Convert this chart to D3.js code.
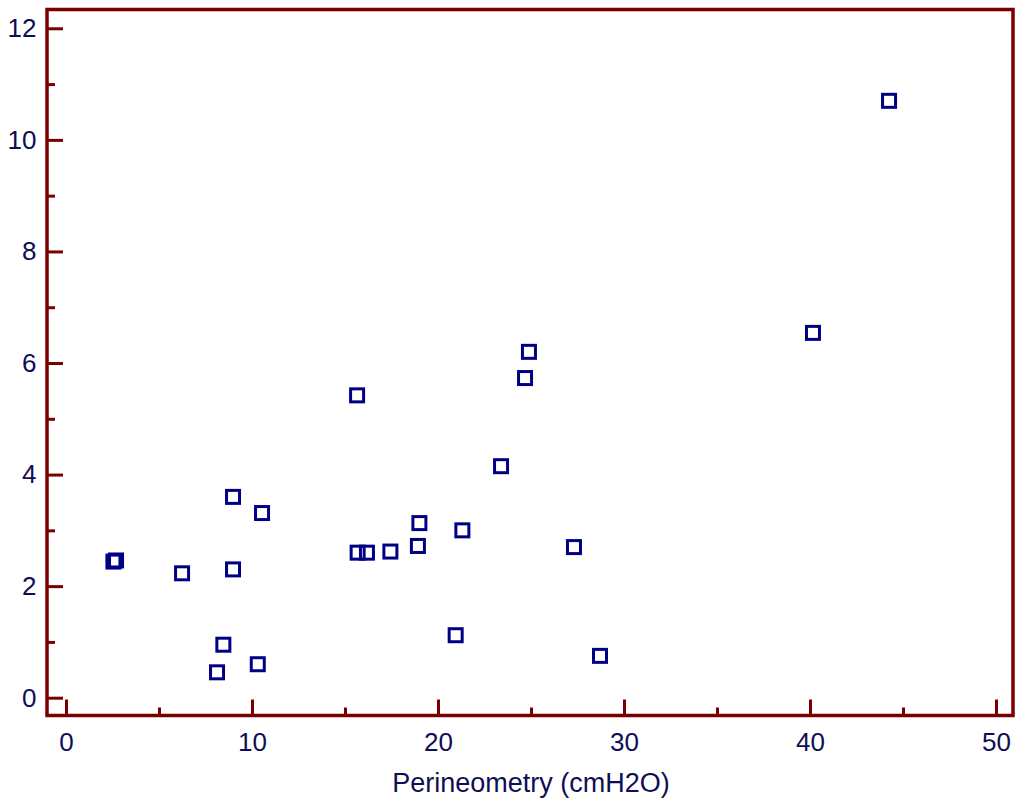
<!DOCTYPE html>
<html>
  <head>
    <meta charset="utf-8">
    <title>Perineometry scatter</title>
    <script src="https://d3js.org/d3.v7.min.js"></script>
    <style>
      body { margin: 0; background: #fff; }
      svg text { font-family: "Liberation Sans", Arial, sans-serif; fill: #0e0e55; }
    </style>
  </head>
  <body>
    <svg id="chart" width="1015" height="803"></svg>
    <script>
      // data
      perineometry = [2.55, 2.69, 6.24, 8.12, 8.46, 8.98, 8.98, 10.31, 10.54, 15.65, 15.68, 16.18,
                      17.44, 18.92, 19.0, 20.95, 21.31, 23.39, 24.68, 24.89, 27.31, 28.71, 40.16, 44.25];
      yValues = [2.44, 2.46, 2.23, 0.455, 0.95, 2.30, 3.60, 0.60, 3.31, 5.42, 2.60, 2.60,
                 2.62, 2.72, 3.13, 1.12, 3.00, 4.15, 5.73, 6.20, 2.70, 0.75, 6.54, 10.70];
      xMajor = [0, 10, 20, 30, 40, 50];
      xMinor = [5, 15, 25, 35, 45];
      yMajor = [0, 2, 4, 6, 8, 10, 12];
      yMinor = [1, 3, 5, 7, 9, 11];
      xTitle = "Perineometry (cmH2O)";

      chart = d3.select("#chart");
      frameColour = "#7a0000";
      frame = { left: 47, right: 1013, top: 9.5, bottom: 715.5 };
      // scales
      x = d3.scaleLinear().domain([0, 50]).range([66, 996]);
      y = d3.scaleLinear().domain([0, 12]).range([697.7, 28.3]);
      // ticks (inward), minor first
      xMinorAxis = d3.axisBottom(x).tickValues(xMinor).tickSize(-8).tickFormat("");
      xAxis = d3.axisBottom(x).tickValues(xMajor).tickSize(-16).tickPadding(17).tickFormat(d3.format("d"));
      yMinorAxis = d3.axisLeft(y).tickValues(yMinor).tickSize(-8).tickFormat("");
      yAxis = d3.axisLeft(y).tickValues(yMajor).tickSize(-16).tickPadding(10.5).tickFormat(d3.format("d"));
      [xMinorAxis, xAxis].forEach(function(a) {
        chart.append("g")
          .attr("transform", "translate(0," + frame.bottom + ")")
          .call(a);
      });
      [yMinorAxis, yAxis].forEach(function(a) {
        chart.append("g")
          .attr("transform", "translate(" + frame.left + ",0)")
          .call(a);
      });
      chart.selectAll(".domain").remove();
      chart.selectAll(".tick line")
        .attr("stroke", frameColour)
        .attr("stroke-width", 3);
      chart.selectAll(".tick text")
        .attr("font-size", 26)
        .attr("fill", "#0e0e55");
      // frame
      chart.append("rect")
        .attr("x", frame.left)
        .attr("y", frame.top)
        .attr("width", frame.right - frame.left)
        .attr("height", frame.bottom - frame.top)
        .attr("fill", "none")
        .attr("stroke", frameColour)
        .attr("stroke-width", 3.5);
      // points
      chart.append("g")
        .selectAll("rect")
        .data(perineometry)
        .join("rect")
        .attr("x", function(d) { return x(d) - 6.5; })
        .attr("y", function(d, i) { return y(yValues[i]) - 6.5; })
        .attr("width", 13)
        .attr("height", 13)
        .attr("fill", "none")
        .attr("stroke", "#000085")
        .attr("stroke-width", 3);
      // axis title
      chart.append("text")
        .attr("x", (x(0) + x(50)) / 2)
        .attr("y", 792)
        .attr("text-anchor", "middle")
        .attr("font-size", 27)
        .text(xTitle);
    </script>
  </body>
</html>
